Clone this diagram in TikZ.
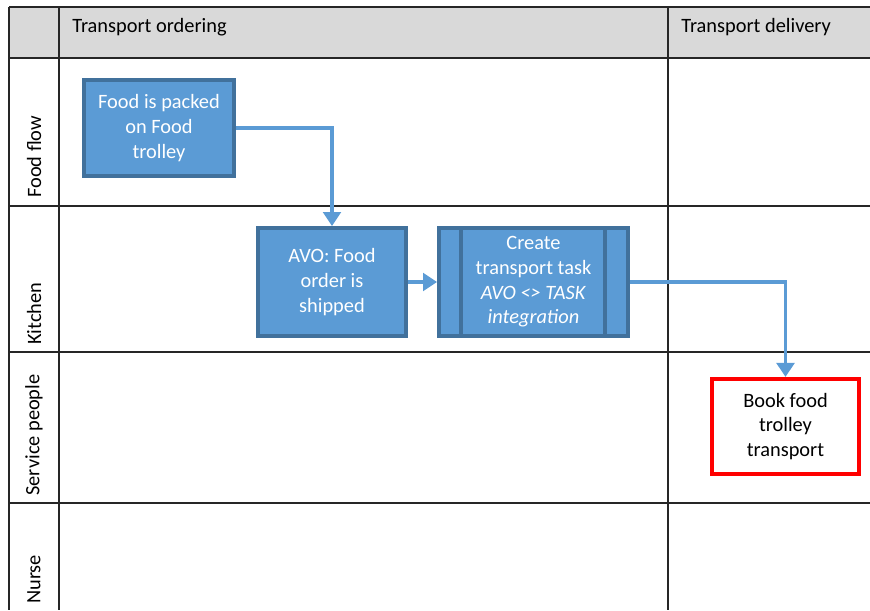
\documentclass[tikz,border=0pt]{standalone}
\usepackage{fontspec}
\setmainfont{Carlito}
\usetikzlibrary{arrows.meta,calc}
\definecolor{boxblue}{HTML}{5B9BD5}
\definecolor{boxedge}{HTML}{41719C}
\definecolor{headgray}{HTML}{D9D9D9}
\definecolor{bookred}{HTML}{FF0000}
\begin{document}
\begin{tikzpicture}
  [x=0.02cm,y=-0.02cm,
   every node/.style={font=\fontsize{11.6}{14}\selectfont,inner sep=0pt},
   lane/.style={draw=black!85,line width=1.1pt},
   lanename/.style={rotate=90,anchor=west},
   task/.style={rectangle,fill=boxblue,draw=boxedge,line width=2.2pt,
     text=white,align=center,minimum height=2.16cm},
   flow/.style={draw=boxblue,line width=2pt,
     -{Triangle[length=8pt,width=10pt]}}]
  \useasboundingbox (0,0) rectangle (870,610);

  % lanes
  \fill[headgray] (9,7) rectangle (870,58);
  \draw[lane] (9,7) -- (870,7);
  \draw[lane] (9,58) -- (870,58);
  \draw[lane] (9,206) -- (870,206);
  \draw[lane] (9,352) -- (870,352);
  \draw[lane] (9,503) -- (870,503);
  \draw[lane] (9,7) -- (9,610);
  \draw[lane] (59,7) -- (59,610);
  \draw[lane] (668,7) -- (668,610);

  \node[anchor=west] (ordering) at (72,27.5) {Transport ordering};
  \node[anchor=west] (delivery) at (681,27.5) {Transport delivery};
  \node[lanename] (foodflow) at (34,198) {Food flow};
  \node[lanename] (kitchen) at (34,345) {Kitchen};
  \node[lanename] (service) at (34,496) {Service people};
  \node[lanename] (nurse) at (34,604) {Nurse};

  % tasks
  \node[task,minimum width=3cm,minimum height=1.92cm] (packed) at (159,128)
    {Food is packed\\on Food\\trolley};
  \node[task,minimum width=2.96cm] (shipped) at (332,282)
    {AVO: Food\\order is\\shipped};
  \node[task,minimum width=3.78cm] (create) at (533.5,282)
    {Create\\transport task\\\textit{AVO <> TASK}\\\textit{integration}};
  \draw[boxedge,line width=2.2pt] ($(create.north west)+(24,0)$) -- ($(create.south west)+(24,0)$);
  \draw[boxedge,line width=2.2pt] ($(create.north east)+(-25,0)$) -- ($(create.south east)+(-25,0)$);
  \node[rectangle,draw=bookred,line width=2.3pt,fill=white,align=center,
    minimum width=2.94cm,minimum height=1.9cm] (book) at (785.5,426.5)
    {Book food\\trolley\\transport};

  % flows
  \draw[flow] (packed.east) -| (shipped.north);
  \draw[flow] (shipped.east) -- (create.west);
  \draw[flow] (create.east) -| (book.north);

\end{tikzpicture}
\end{document}
